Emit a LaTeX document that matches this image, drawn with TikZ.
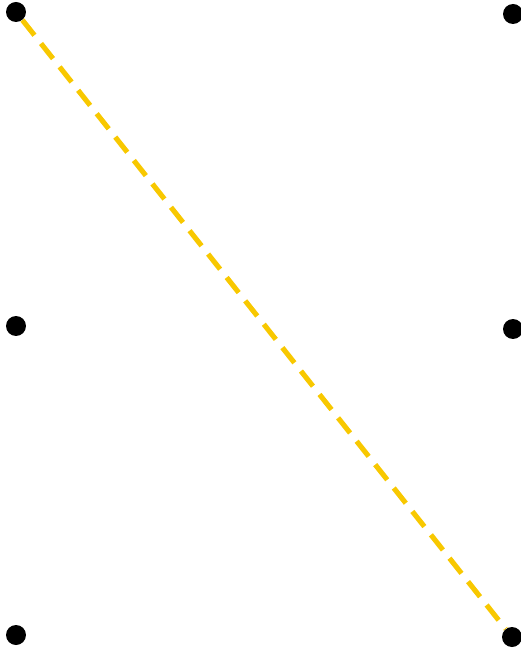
\documentclass[tikz,border=0pt]{standalone}
\usepackage{xcolor}
\usetikzlibrary{positioning}
\definecolor{cLINE}{HTML}{F8C800}

\begin{document}
\begin{tikzpicture}[
  x=0.02cm, y=-0.02cm,
  dot/.style={circle, fill=black, inner sep=0pt, minimum size=0.4cm},
  diag/.style={draw=cLINE, line width=2.9pt, dash pattern=on 11pt off 6pt}
]
\useasboundingbox (0,0) rectangle (520,651);

\node[dot] (tl) at (16,12)  {};
\node[dot] (ml) at (16,326) {};
\node[dot] (bl) at (16,635) {};
\node[dot] (tr) at (513,14)  {};
\node[dot] (mr) at (513,329) {};
\node[dot] (br) at (512,637) {};

\draw[diag] (tl) -- (br);
\end{tikzpicture}
\end{document}
